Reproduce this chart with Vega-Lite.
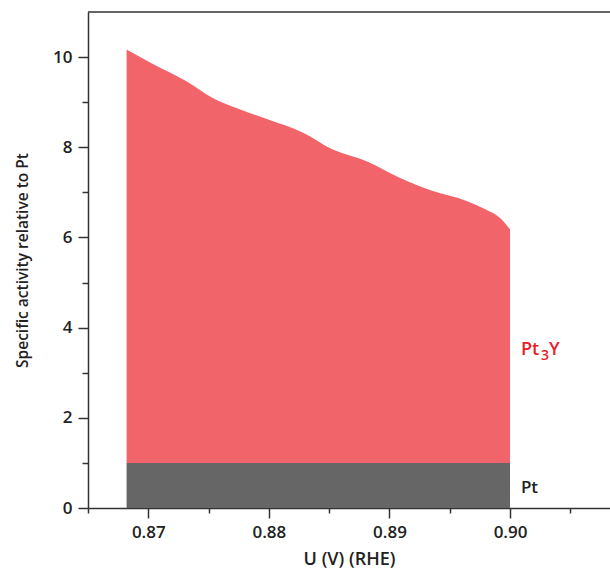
{
  "$schema": "https://vega.github.io/schema/vega-lite/v6.json",
  "autosize": {"type": "none"},
  "width": 522,
  "height": 496,
  "padding": {"left": 88, "top": 12, "right": 0, "bottom": 69},
  "config": {
    "view": {"stroke": null},
    "font": "Open Sans",
    "axis": {
      "domainColor": "#333333",
      "domainWidth": 1.5,
      "tickColor": "#333333",
      "tickWidth": 1.5,
      "labelFont": "Open Sans",
      "labelFontWeight": 600,
      "labelFontSize": 17,
      "labelColor": "#222222",
      "titleFont": "Open Sans",
      "titleFontWeight": 600,
      "titleColor": "#222222",
      "grid": false
    }
  },
  "datasets": {
    "pt3y": [
      {"u": 0.8682, "act": 10.17, "base": 1},
      {"u": 0.8703, "act": 9.86, "base": 1},
      {"u": 0.8732, "act": 9.46, "base": 1},
      {"u": 0.8753, "act": 9.10, "base": 1},
      {"u": 0.8773, "act": 8.87, "base": 1},
      {"u": 0.8800, "act": 8.61, "base": 1},
      {"u": 0.8828, "act": 8.33, "base": 1},
      {"u": 0.8853, "act": 7.95, "base": 1},
      {"u": 0.8881, "act": 7.69, "base": 1},
      {"u": 0.8908, "act": 7.33, "base": 1},
      {"u": 0.8936, "act": 7.03, "base": 1},
      {"u": 0.8964, "act": 6.81, "base": 1},
      {"u": 0.8980, "act": 6.62, "base": 1},
      {"u": 0.8991, "act": 6.45, "base": 1},
      {"u": 0.9000, "act": 6.18, "base": 1}
    ],
    "pt": [
      {"u": 0.8682, "act": 1, "base": 0},
      {"u": 0.9000, "act": 1, "base": 0}
    ],
    "label3y": [
      {"u": 0.9009, "act": 3.5}
    ],
    "labelpt": [
      {"u": 0.9009, "act": 0.44, "text": "Pt"}
    ]
  },
  "layer": [
    {
      "data": {"name": "pt3y"},
      "mark": {"type": "area", "interpolate": "monotone", "color": "#f1656a"},
      "encoding": {
        "x": {
          "field": "u", "type": "quantitative",
          "scale": {"domain": [0.865, 0.90829], "nice": false, "zero": false},
          "axis": {
            "title": "U (V) (RHE)",
            "titleFontSize": 18,
            "titlePadding": 10,
            "values": [0.865, 0.87, 0.875, 0.88, 0.885, 0.89, 0.895, 0.9, 0.905],
            "labelExpr": "round(datum.value*1000) % 10 === 0 ? format(datum.value, '.2f') : ''",
            "tickSize": {"condition": {"test": "round(datum.value*1000) % 10 !== 0", "value": 5}, "value": 10},
            "labelPadding": 6
          }
        },
        "y": {
          "field": "act", "type": "quantitative",
          "scale": {"domain": [0, 11], "nice": false},
          "axis": {
            "title": "Specific activity relative to Pt",
            "titleFontSize": 15.5,
            "titlePadding": 22,
            "values": [0, 1, 2, 3, 4, 5, 6, 7, 8, 9, 10],
            "labelExpr": "datum.value % 2 === 0 ? datum.label : ''",
            "tickSize": {"condition": {"test": "datum.value % 2 === 1", "value": 6}, "value": 10},
            "labelPadding": 6
          }
        },
        "y2": {"field": "base"}
      }
    },
    {
      "data": {"name": "pt"},
      "mark": {"type": "area", "color": "#666666"},
      "encoding": {
        "x": {"field": "u", "type": "quantitative"},
        "y": {"field": "act", "type": "quantitative"},
        "y2": {"field": "base"}
      }
    },
    {
      "data": {"values": [{"top": 11}]},
      "mark": {"type": "rule", "color": "#333333", "strokeWidth": 1.5},
      "encoding": {"y": {"field": "top", "type": "quantitative"}}
    },
    {
      "data": {"name": "label3y"},
      "mark": {"type": "text", "align": "left", "baseline": "middle", "fontSize": 18, "fontWeight": 600, "font": "Open Sans", "color": "#e8202a", "text": "Pt"},
      "encoding": {
        "x": {"field": "u", "type": "quantitative"},
        "y": {"field": "act", "type": "quantitative"}
      }
    },
    {
      "data": {"name": "label3y"},
      "mark": {"type": "text", "align": "left", "baseline": "middle", "fontSize": 14, "fontWeight": 600, "font": "Open Sans", "color": "#e8202a", "text": "3", "dx": 20, "dy": 6},
      "encoding": {
        "x": {"field": "u", "type": "quantitative"},
        "y": {"field": "act", "type": "quantitative"}
      }
    },
    {
      "data": {"name": "label3y"},
      "mark": {"type": "text", "align": "left", "baseline": "middle", "fontSize": 18, "fontWeight": 600, "font": "Open Sans", "color": "#e8202a", "text": "Y", "dx": 28},
      "encoding": {
        "x": {"field": "u", "type": "quantitative"},
        "y": {"field": "act", "type": "quantitative"}
      }
    },
    {
      "data": {"name": "labelpt"},
      "mark": {"type": "text", "align": "left", "baseline": "middle", "fontSize": 17, "fontWeight": 600, "font": "Open Sans", "color": "#222222"},
      "encoding": {
        "x": {"field": "u", "type": "quantitative"},
        "y": {"field": "act", "type": "quantitative"},
        "text": {"field": "text"}
      }
    }
  ]
}
